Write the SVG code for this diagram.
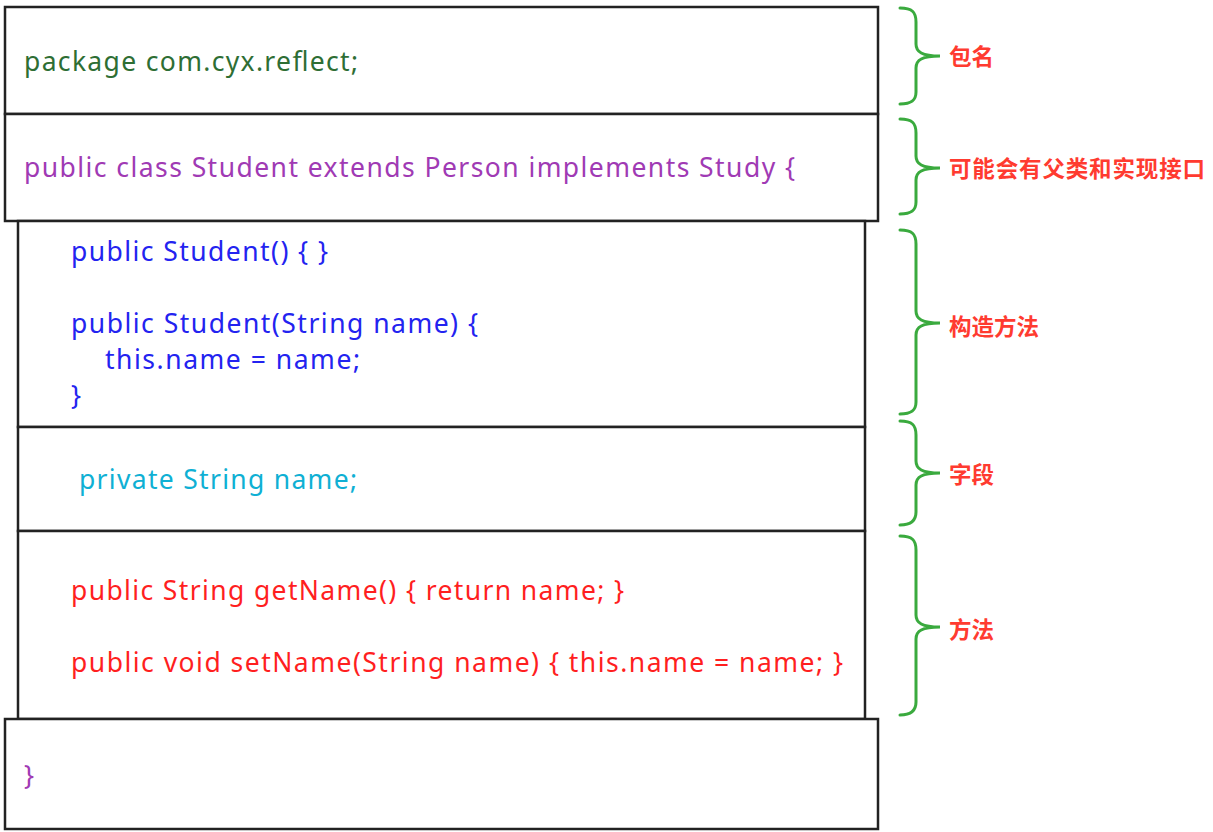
<svg xmlns="http://www.w3.org/2000/svg" width="1213" height="832" viewBox="0 0 1213 832">
<style>
.box{fill:#fff;stroke:#222;stroke-width:2.5}
.code{font-family:"Noto Sans","Open Sans","Liberation Sans",sans-serif;font-size:26.5px}
.lbl{font-family:"Noto Sans CJK SC","Noto Sans",sans-serif;font-size:22.5px;font-weight:bold;fill:#ff3b30}
.brace{fill:none;stroke:#3aaa3e;stroke-width:3;stroke-linecap:round}
.g{fill:#2e6e34}.p{fill:#a03ab4}.b{fill:#2323f0}.c{fill:#0fb0d4}.r{fill:#ff1f1f}
</style>
<rect width="1213" height="832" fill="#fff"/>
<g id="package">
<rect class="box" x="5" y="7" width="873" height="107"/>
<text class="code g" x="24" y="71" textLength="334">package com.cyx.reflect;</text>
</g>
<g id="class">
<rect class="box" x="5" y="114" width="873" height="107"/>
<text class="code p" x="24" y="177" textLength="771">public class Student extends Person implements Study {</text>
</g>
<g id="constructors">
<rect class="box" x="18" y="221" width="847" height="206"/>
<text class="code b" x="71" y="261" textLength="257">public Student() { }</text>
<text class="code b" x="71" y="333" textLength="407">public Student(String name) {</text>
<text class="code b" x="105" y="369" textLength="255">this.name = name;</text>
<text class="code b" x="71" y="405">}</text>
</g>
<g id="fields">
<rect class="box" x="18" y="427" width="847" height="104"/>
<text class="code c" x="79" y="489" textLength="278">private String name;</text>
</g>
<g id="methods">
<rect class="box" x="18" y="531" width="847" height="188"/>
<text class="code r" x="71" y="600" textLength="553">public String getName() { return name; }</text>
<text class="code r" x="71" y="672" textLength="772">public void setName(String name) { this.name = name; }</text>
</g>
<g id="end">
<rect class="box" x="5" y="719" width="873" height="110"/>
<text class="code p" x="24" y="785">}</text>
</g>
<g id="connectors">
<path class="brace" d="M900 8 C912 8 916 12 916 22 L916 44 C916 52 922 56 940 56 C922 56 916 60 916 68 L916 92 C916 100 912 104 900 104"/>
<path class="brace" d="M900 119 C912 119 916 123 916 133 L916 156 C916 164 922 168 940 168 C922 168 916 172 916 180 L916 202 C916 210 912 214 900 214"/>
<path class="brace" d="M900 230 C912 230 916 234 916 244 L916 311 C916 319 922 323 940 323 C922 323 916 327 916 335 L916 402 C916 410 912 414 900 414"/>
<path class="brace" d="M900 421 C912 421 916 425 916 435 L916 461 C916 469 922 473 940 473 C922 473 916 477 916 485 L916 512 C916 520 912 525 900 525"/>
<path class="brace" d="M900 536 C912 536 916 540 916 550 L916 615 C916 623 922 627 940 627 C922 627 916 631 916 639 L916 702 C916 710 912 715 900 715"/>
</g>
<g id="labels">
<text class="lbl" x="949" y="65">包名</text>
<text class="lbl" x="949" y="177" textLength="256">可能会有父类和实现接口</text>
<text class="lbl" x="949" y="335">构造方法</text>
<text class="lbl" x="949" y="483">字段</text>
<text class="lbl" x="949" y="638">方法</text>
</g>
</svg>
